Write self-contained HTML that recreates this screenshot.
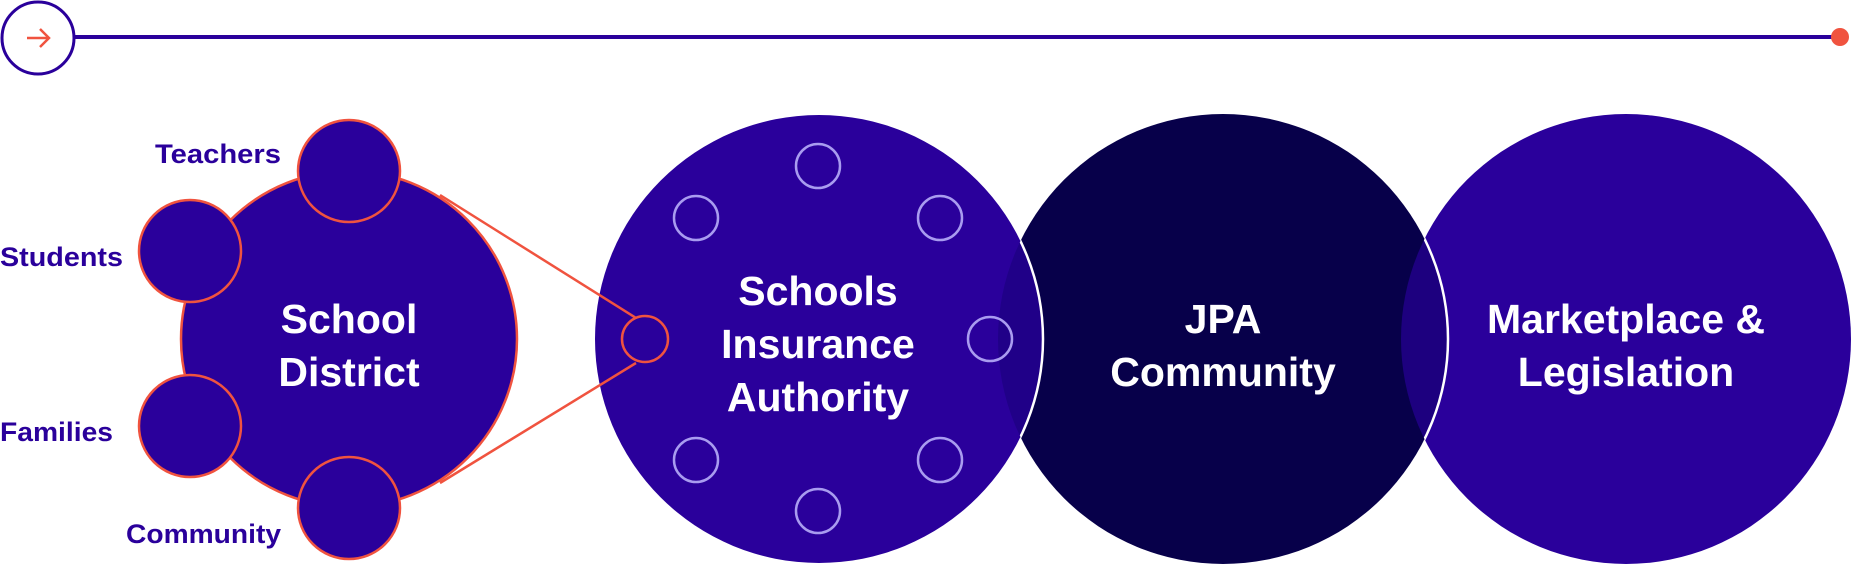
<!DOCTYPE html>
<html><head><meta charset="utf-8"><style>
html,body{margin:0;padding:0;background:#fff;width:1854px;height:566px;overflow:hidden}
svg{display:block}
text{font-family:"Liberation Sans",sans-serif;font-weight:bold}
</style></head><body>
<svg width="1854" height="566" viewBox="0 0 1854 566" xmlns="http://www.w3.org/2000/svg">
<defs>
<clipPath id="cJ"><circle cx="1223" cy="339" r="225"/></clipPath>
<clipPath id="cM"><circle cx="1626" cy="339" r="225"/></clipPath>
</defs>
<line x1="75" y1="37" x2="1840" y2="37" stroke="#2a009b" stroke-width="4"/>
<circle cx="1840" cy="37" r="9" fill="#f0533f"/>
<circle cx="38" cy="38" r="36" fill="#fff" stroke="#2a009b" stroke-width="3"/>
<line x1="27" y1="38" x2="49" y2="38" stroke="#f0533f" stroke-width="2.5"/>
<polyline points="40,29 49,38 40,47" fill="none" stroke="#f0533f" stroke-width="2.5"/>

<circle cx="1626" cy="339" r="225" fill="#2a009b"/>
<circle cx="1223" cy="339" r="225" fill="#07004a"/>
<circle cx="819" cy="339" r="224" fill="#2a009b"/>
<g clip-path="url(#cJ)"><circle cx="819" cy="339" r="224" fill="#200088"/></g>
<g clip-path="url(#cM)"><circle cx="1223" cy="339" r="225" fill="#1d007f"/></g>
<g clip-path="url(#cJ)"><circle cx="819" cy="339" r="224" fill="none" stroke="#fff" stroke-width="2.5"/></g>
<g clip-path="url(#cM)"><circle cx="1223" cy="339" r="225" fill="none" stroke="#fff" stroke-width="2.5"/></g>
<g fill="none" stroke="#a99cf0" stroke-width="2.5">
<circle cx="818" cy="166" r="22"/><circle cx="696" cy="218" r="22"/><circle cx="940" cy="218" r="22"/>
<circle cx="990" cy="339" r="22"/><circle cx="696" cy="460" r="22"/><circle cx="940" cy="460" r="22"/>
<circle cx="818" cy="511" r="22"/>
</g>

<line x1="440" y1="195" x2="636" y2="318" stroke="#f0533f" stroke-width="2.5"/>
<line x1="440" y1="483" x2="636" y2="363" stroke="#f0533f" stroke-width="2.5"/>
<circle cx="349" cy="339" r="168" fill="#2a009b" stroke="#f0533f" stroke-width="2.5"/>
<g fill="#2a009b" stroke="#f0533f" stroke-width="2.5">
<circle cx="349" cy="171" r="51"/><circle cx="190" cy="251" r="51"/>
<circle cx="190" cy="426" r="51"/><circle cx="349" cy="508" r="51"/>
</g>
<circle cx="645" cy="339" r="23" fill="#2a009b" stroke="#f0533f" stroke-width="2.5"/>

<g fill="#2a009b" font-size="27">
<text x="281" y="163" text-anchor="end" textLength="126" lengthAdjust="spacingAndGlyphs">Teachers</text>
<text x="0" y="266" textLength="123" lengthAdjust="spacingAndGlyphs">Students</text>
<text x="0" y="441" textLength="113" lengthAdjust="spacingAndGlyphs">Families</text>
<text x="281" y="543" text-anchor="end" textLength="155" lengthAdjust="spacingAndGlyphs">Community</text>
</g>
<g fill="#fff" font-size="41" text-anchor="middle">
<text x="349" y="333">School</text>
<text x="349" y="386">District</text>
<text x="818" y="305">Schools</text>
<text x="818" y="358">Insurance</text>
<text x="818" y="411">Authority</text>
<text x="1223" y="333">JPA</text>
<text x="1223" y="386">Community</text>
<text x="1626" y="333">Marketplace &amp;</text>
<text x="1626" y="386">Legislation</text>
</g>
</svg>
</body></html>
